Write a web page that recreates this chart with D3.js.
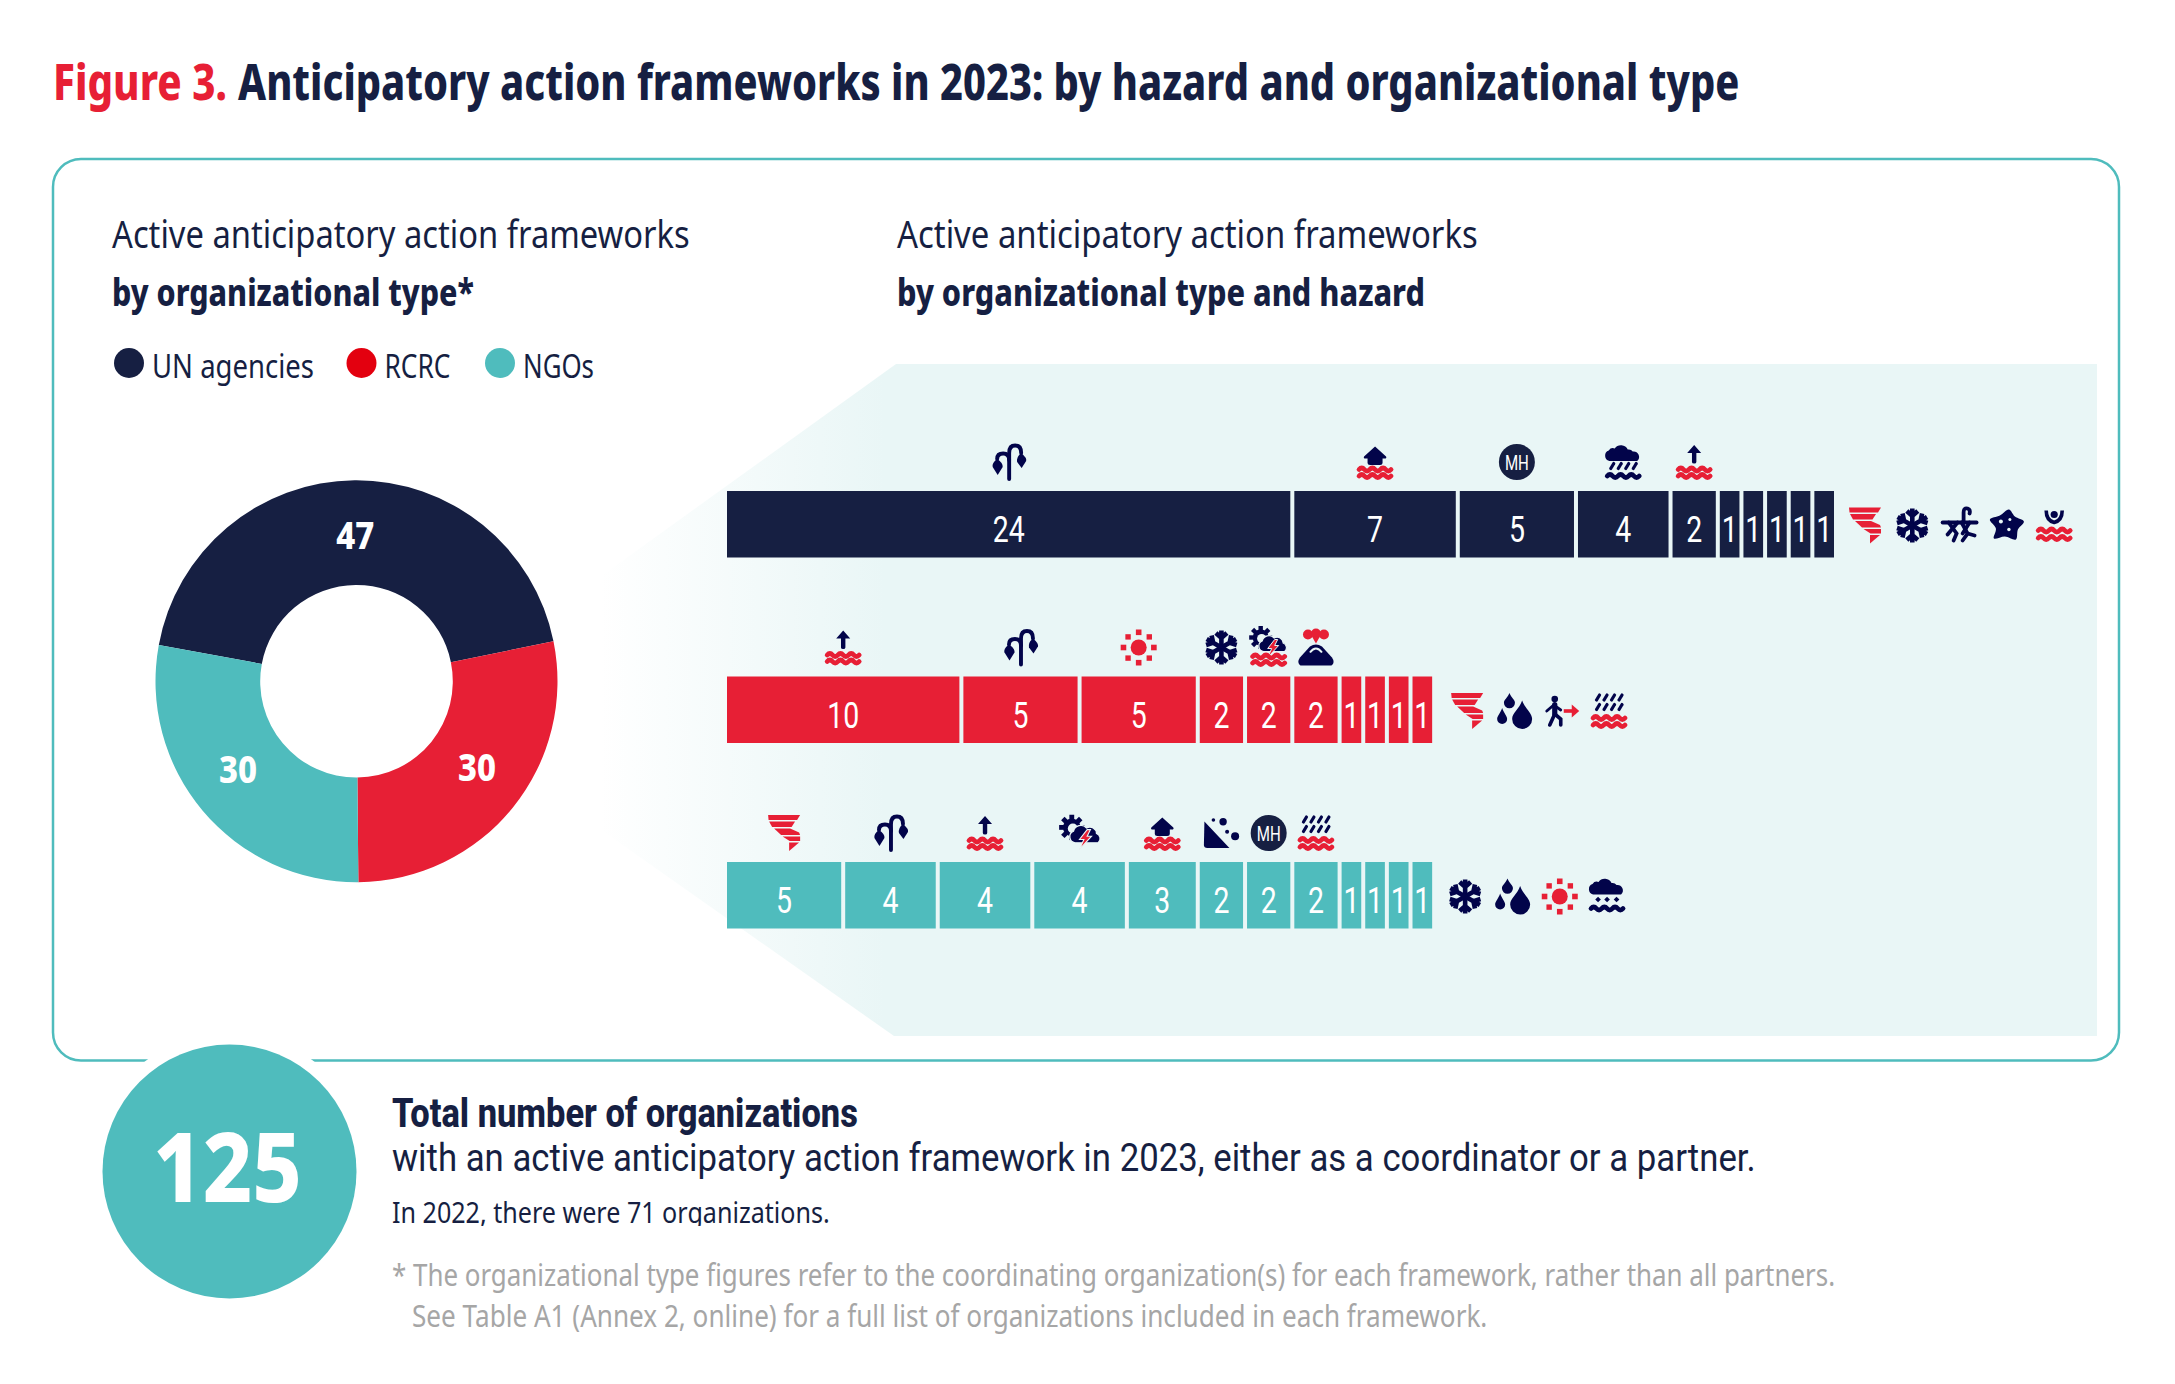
<!DOCTYPE html>
<html><head><meta charset="utf-8">
<style>html,body{margin:0;padding:0;background:#fff}svg{display:block}</style>
<script src="https://cdnjs.cloudflare.com/ajax/libs/d3/7.8.5/d3.min.js"></script>
</head><body><div id="c"></div>
<script>
// ---- data ----
const orgTypes = ["UN agencies","RCRC","NGOs"];
const orgTotals = [47,30,30];
const unValues   = [24,7,5,4,2,1,1,1,1,1];
const unHazards  = ["drought","floodHouse","multi","rainCloud","floodRise","tornado","cold","pest","epidemic","tsunami"];
const rcrcValues = [10,5,5,2,2,2,1,1,1,1];
const rcrcHazards= ["floodRise","drought","heat","cold","stormWaves","volcano","tornado","drops","displacement","rainWaves"];
const ngoValues  = [5,4,4,4,3,2,2,2,1,1,1,1];
const ngoHazards = ["tornado","drought","floodRise","storm","floodHouse","landslide","multi","rainWaves","cold","drops","heat","snowCloud"];
const totalOrgs = 125;

// ---- style ----
const NAVY="#161f42", RED="#e71f35", TEAL="#4fbcbd", INK="#02044a", TINT="#e9f6f6", GREY="#a6a6a6";
const W=2175,H=1384, FONT="'Noto Sans',sans-serif", ROBOTO="Roboto,sans-serif";
const svg=d3.select("#c").append("svg").attr("width",W).attr("height",H).attr("viewBox",[0,0,W,H]);
const defs=svg.append("defs");
const grad=defs.append("linearGradient").attr("id","fade").attr("gradientUnits","userSpaceOnUse")
  .attr("x1",600).attr("x2",885).attr("y1",0).attr("y2",0);
grad.append("stop").attr("offset",0).attr("stop-color","#fff");
grad.append("stop").attr("offset",1).attr("stop-color",TINT);

// text squeezed horizontally to the width it has in the picture
function T(x,y,s,o={}){
  const t=(o.parent||svg).append("text").text(s)
    .attr("font-family",o.family||FONT).attr("font-size",o.size||32)
    .attr("font-weight",o.weight||400).attr("fill",o.fill||NAVY);
  if(o.anchor) t.attr("text-anchor",o.anchor);
  const sx=o.width?o.width/t.node().getComputedTextLength():1;
  t.attr("transform",`translate(${x},${y}) scale(${sx},1)`);
  return t;
}

// panel
svg.append("rect").attr("x",53).attr("y",159).attr("width",2066).attr("height",901.5).attr("rx",28)
  .attr("fill","#fff").attr("stroke",TEAL).attr("stroke-width",2.5);
svg.append("path").attr("d","M600 577L896 364H2097V1036H894L600 829Z").attr("fill","url(#fade)");

// headings
T(53,99.5,"Figure 3.",{size:50,weight:800,fill:RED,width:174});
T(238,99.5,"Anticipatory action frameworks in 2023: by hazard and organizational type",{size:50,weight:800,width:1502});
T(112,247.5,"Active anticipatory action frameworks",{size:38,width:578});
T(112,305.5,"by organizational type*",{size:38,weight:800,width:362});
T(897,247.5,"Active anticipatory action frameworks",{size:38,width:581});
T(897,305.5,"by organizational type and hazard",{size:38,weight:800,width:528});

// legend
const legendColors=[NAVY,"#e3000f",TEAL], legendX=[129,361.5,500], legendW=[162,66,71];
orgTypes.forEach((d,i)=>{
  svg.append("circle").attr("cx",legendX[i]).attr("cy",363).attr("r",15).attr("fill",legendColors[i]);
  T(legendX[i]+23,378,d,{size:33,width:legendW[i]});
});

// donut
const pieColors=[NAVY,RED,TEAL];
const start=-79.6*Math.PI/180;
const pie=d3.pie().sort(null).startAngle(start).endAngle(start+2*Math.PI)(orgTotals);
const arc=d3.arc().innerRadius(96.3).outerRadius(201);
const gD=svg.append("g").attr("transform","translate(356.5,681.3)");
gD.selectAll("path").data(pie).join("path").attr("d",arc).attr("fill",(d,i)=>pieColors[i]);
pie.forEach(d=>{
  const ang=(d.startAngle+d.endAngle)/2;
  const r=d.index===0?146:155;
  T(r*Math.sin(ang),-r*Math.cos(ang)+(d.index===0?14:2),d.value,{parent:gD,size:37,weight:800,fill:"#fff",anchor:"middle",width:38});
});

// icons (local coordinates, centred on 0,0, about 36 px tall)
const wave=(y,c)=>`<path d="M-16 ${y}q2.67 -3 5.33 0t5.33 0t5.33 0t5.33 0t5.33 0t5.33 0" fill="none" stroke="${c}" stroke-width="4.8" stroke-linecap="round"/>`;
const waves=(a,b,c)=>wave(a,c)+wave(b,c);
const drop=(x,t,b,w)=>{const cy=b-w,k=(b-t)*.3;return `<path fill="${INK}" d="M${x} ${t}C${x+w*.3} ${t+k} ${x+w} ${cy-w*.6} ${x+w} ${cy}A${w} ${w} 0 1 1 ${x-w} ${cy}C${x-w} ${cy-w*.6} ${x-w*.3} ${t+k} ${x} ${t}Z"/>`;};
const cloud=(dy)=>`<path fill="${INK}" transform="translate(0,${dy})" d="M-14 0a5.5 5.5 0 0 1 -0.5 -10.5a5 5 0 0 1 6 -2a7.5 7.5 0 0 1 13 1a5 5 0 0 1 5 2a5.5 5.5 0 0 1 4.5 9.5z"/>`;
const rainLines=(ys,c)=>ys.map(y=>[-11,-3.5,4,11.5].map(x=>`<path d="M${x-1.5} ${y+5}L${x+1.5} ${y}" stroke="${c}" stroke-width="3.2" stroke-linecap="round"/>`).join("")).join("");
const flake=[0,60,120,180,240,300].map(a=>`<path transform="rotate(${a})" d="M0 0V-17M-5.5 -14.5L0 -9.5L5.5 -14.5" stroke="${INK}" stroke-width="4.6" fill="none"/>`).join("");
const sun=`<circle r="8" fill="${RED}"/>`+[0,90,180,270].map(a=>`<rect transform="rotate(${a})" x="-2.8" y="-18" width="5.6" height="5.6" fill="${RED}"/>`).join("")
  +[45,135,225,315].map(a=>`<rect transform="rotate(${a}) translate(0,-15) rotate(45)" x="-2.7" y="-2.7" width="5.4" height="5.4" fill="${RED}"/>`).join("");
const tornado=`<g fill="${RED}"><path d="M-16 -18H16L13 -13H-15.5Z"/><path d="M-15 -11.5H11L7.5 -6H-12Z"/><path d="M-10 -4.5H6L15 -0.5L16 2H-3Z"/><path d="M-1.5 3.5H16L16 8L5.5 8Z"/><path d="M5 9.5H15L5 18Z"/></g>`;
const plant=`<g fill="none" stroke="${INK}" stroke-width="3.9" stroke-linecap="round"><path d="M0.5 17V-9Q0.5 -16.5 6.5 -16.5Q12.5 -16.5 12.5 -9"/><path d="M0.5 -2Q0.5 -8.5 -5.5 -8.5Q-11.5 -8.5 -11.5 -3"/></g><g fill="${INK}"><path d="M12.5 -9Q18.5 -4 17.5 -1L13 6L8.5 0Q7.5 -5 12.5 -9Z"/><path d="M-11.5 -3Q-5.5 1 -6 5L-11 13L-16 5Q-17 1 -11.5 -3Z"/></g>`;
const stormBase=(s)=>`<g transform="${s}"><circle cx="-8" cy="-6" r="8" fill="${INK}"/>`+d3.range(8).map(i=>`<rect transform="translate(-8,-6) rotate(${i*45})" x="-2.2" y="-11.5" width="4.4" height="4.5" fill="${INK}"/>`).join("")
  +`<circle cx="-7" cy="-5" r="4.6" fill="${TINT}"/><path fill="${INK}" stroke="${TINT}" stroke-width="1.2" d="M-5 8a5.5 5.5 0 0 1 -1.5 -10.5a7 7 0 0 1 12 -3a6 6 0 0 1 9 5a5 5 0 0 1 1.5 8.5z"/><path fill="${RED}" stroke="${TINT}" stroke-width="1" d="M6 -4L-1 5L3 5L-1 14L10 2L6 2L9 -4Z"/></g>`;
const ICONS={
  drought:plant,
  floodHouse:`<path fill="${INK}" d="M0 -15.5L11 -5.5Q12 -3.5 9.5 -3.5H7.5V1Q7.5 3 5 3H-5Q-7.5 3 -7.5 1V-3.5H-9.5Q-12 -3.5 -11 -5.5Z"/>`+waves(7.5,14,RED),
  multi:`<circle r="18" fill="${NAVY}"/>`,
  rainCloud:cloud(-1)+rainLines([1.5],INK)+wave(14,INK),
  floodRise:`<path fill="${INK}" d="M0 -17L7 -9H2.2V0Q2.2 1.5 0 1.5Q-2.2 1.5 -2.2 0V-9H-7Z"/>`+waves(7.5,14,RED),
  tornado:tornado,
  cold:flake,
  pest:`<g fill="none" stroke="${INK}" stroke-width="3.8" stroke-linecap="round"><path d="M-17 -3H17"/><path d="M4 -3V-13Q4 -18 8 -17Q11 -16 10 -12"/><path d="M-11 -3L-3 8L-6 15"/><path d="M-2 -3L-12 9"/><path d="M2 -3L8 8L3 15"/><path d="M10 -3L3 8"/><path d="M8 8L15 10"/></g>`,
  epidemic:`<path fill="${INK}" d="${d3.line().curve(d3.curveCatmullRomClosed)([[2,-16],[8,-9],[17,-4],[11,4],[9,14],[-2,11],[-13,13],[-11,3],[-17,-6],[-7,-10]])}"/><circle cx="-6" cy="-4" r="2" fill="${TINT}"/><circle cx="3" cy="-6" r="1.5" fill="${TINT}"/><circle cx="2" cy="4" r="1.7" fill="${TINT}"/>`,
  tsunami:`<circle cy="-11" r="3.6" fill="${INK}"/><path d="M-8 -15Q-8 -5 0 -3Q8 -5 8 -15" fill="none" stroke="${INK}" stroke-width="3.6"/>`+waves(5,12.5,RED),
  heat:sun,
  stormWaves:stormBase("translate(0,-4) scale(1)")+waves(9,15.5,RED),
  volcano:`<g fill="${RED}"><circle cx="-8" cy="-13" r="5"/><circle cx="0" cy="-14" r="5"/><circle cx="8" cy="-13" r="5"/><path d="M-4 -11H4L0 -4Z"/></g><path fill="${INK}" d="M-15.5 18Q-19.5 15 -16 10L-6 -1Q0 -5 6 -1L16 10Q19.5 15 15.5 18Z"/><path d="M-6 5Q0 -3 6 5" fill="none" stroke="${TINT}" stroke-width="2"/>`,
  drops:drop(7.7,-10.5,18,10)+drop(-12.3,-3,13,5)+drop(-5,-18,-2.7,5.5),
  displacement:`<circle cx="-7" cy="-12" r="3.3" fill="${INK}"/><g fill="none" stroke="${INK}" stroke-linecap="round"><path d="M-7 -6.5V3" stroke-width="5.2"/><path d="M-15 0L-8 -6L-1 -1" stroke-width="2.8"/><path d="M-7 3L-12 14" stroke-width="3.6"/><path d="M-7 3L-1 8L-1 14" stroke-width="3.6"/></g><path d="M2 0H11" stroke="${RED}" stroke-width="3.6"/><path d="M10 -6.5L17.5 0L10 6.5Z" fill="${RED}"/>`,
  rainWaves:rainLines([-16,-6.5],INK)+waves(7,14,RED),
  storm:stormBase("translate(1,1) scale(1.1)"),
  landslide:`<path fill="${INK}" d="M-17 -11.5L8 15H-14Q-17.5 15 -17.5 12Z"/><g fill="${INK}"><circle cx="1.7" cy="-11.3" r="3.7"/><circle cx="-8" cy="-13" r="1.8"/><circle cx="5.7" cy="-1.3" r="2"/><circle cx="13.7" cy="3.3" r="4"/></g>`,
  snowCloud:cloud(-2)+[-9,0,9.5].map(x=>`<rect transform="translate(${x},3) rotate(45)" x="-2" y="-2" width="4" height="4" fill="${INK}"/>`).join("")+wave(12,INK)
};
function icon(name,x,y){
  const g=svg.append("g").attr("transform",`translate(${x},${y})`);
  g.html(ICONS[name]);
  if(name==="multi") T(0,7.5,"MH",{parent:g,family:ROBOTO,size:21,fill:"#fff",anchor:"middle",width:24});
}

// bars
const unit=d3.scaleLinear().domain([0,47]).range([727,1838]);
const rowY=d3.scalePoint().domain(orgTypes).range([491,862]);
const barH=66.5, gap=4, iconAbove=29, iconStep=47.3;
const rows=[[orgTypes[0],unValues,unHazards,NAVY,31],[orgTypes[1],rcrcValues,rcrcHazards,RED,35],[orgTypes[2],ngoValues,ngoHazards,TEAL,33]];
rows.forEach(([org,vals,haz,col,lead])=>{
  const y0=rowY(org);
  let cum=0; const topN=vals.filter(v=>v>1).length;
  vals.forEach((v,i)=>{
    const x0=unit(cum), x1=unit(cum+v)-gap; cum+=v;
    svg.append("rect").attr("x",x0).attr("y",y0).attr("width",x1-x0).attr("height",barH).attr("fill",col);
    const s=String(v);
    T((x0+x1)/2,y0+51,s,{family:ROBOTO,size:37,weight:400,fill:"#fff",anchor:"middle",width:s.length*16});
    if(i<topN) icon(haz[i],(x0+x1)/2,y0-iconAbove);
  });
  const end=unit(cum)-gap;
  haz.slice(topN).forEach((h,i)=>icon(h,end+lead+i*iconStep,y0+34.5));
});

// total circle
svg.append("circle").attr("cx",229.5).attr("cy",1171.5).attr("r",139).attr("fill","#fff");
svg.append("circle").attr("cx",229.5).attr("cy",1171.5).attr("r",127).attr("fill",TEAL);
T(227.5,1202,totalOrgs,{size:97,weight:800,fill:"#fff",anchor:"middle",width:149});
T(392,1126.5,"Total number of organizations",{family:ROBOTO,size:40,weight:800,width:466});
T(392,1171,"with an active anticipatory action framework in 2023, either as a coordinator or a partner.",{family:ROBOTO,size:38,width:1364});
T(392,1223,"In 2022, there were 71 organizations.",{size:29,width:438}).attr("clip-path",null);
// the reference cuts the descenders of this line
svg.append("rect").attr("x",385).attr("y",1226).attr("width",460).attr("height",12).attr("fill","#fff");
T(392,1286,"* The organizational type figures refer to the coordinating organization(s) for each framework, rather than all partners.",{size:30,fill:GREY,width:1444});
T(412,1327,"See Table A1 (Annex 2, online) for a full list of organizations included in each framework.",{size:30,fill:GREY,width:1076});
</script></body></html>
